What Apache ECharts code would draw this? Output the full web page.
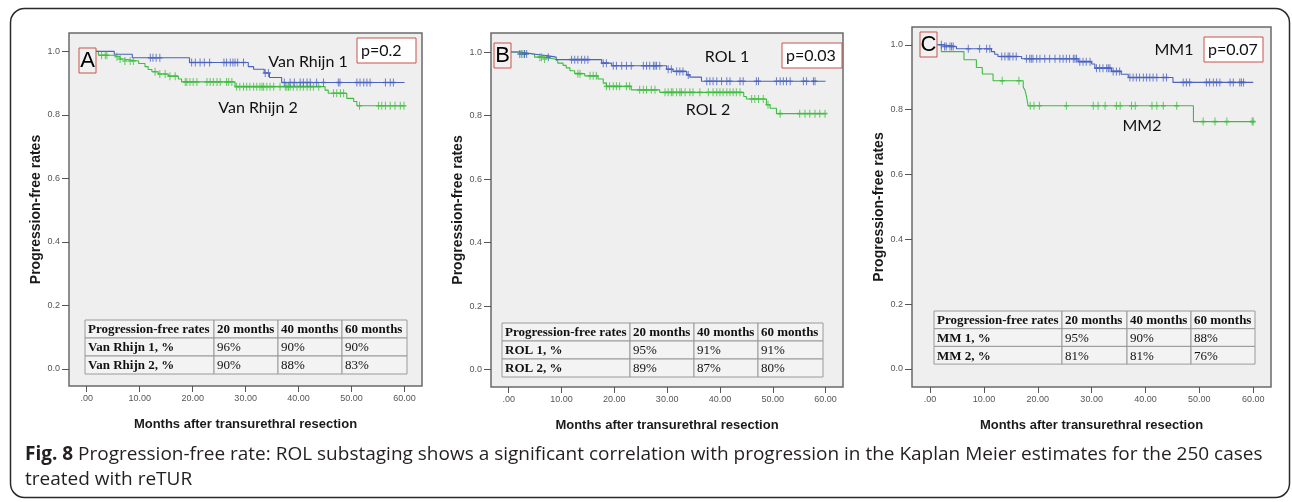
<!DOCTYPE html>
<html>
<head>
<meta charset="utf-8">
<script src="https://cdn.jsdelivr.net/npm/echarts@6/dist/echarts.min.js"></script>
<style>
html, body { margin: 0; padding: 0; background: #fff; }
#main { width: 1292px; height: 502px; }
</style>
</head>
<body>
<div id="main"></div>
<script>
// axis ticks
var xTicks = [0, 10, 20, 30, 40, 50, 60];
var xTickLabels = ['.00', '10.00', '20.00', '30.00', '40.00', '50.00', '60.00'];
var yTicks = [0, 0.2, 0.4, 0.6, 0.8, 1.0];
var yTickLabels = ['0.0', '0.2', '0.4', '0.6', '0.8', '1.0'];

// Kaplan-Meier steps [month, survival] and censor times
var vr1Steps = [[0, 1.0], [5.2, 0.991], [8.6, 0.980], [19.4, 0.965], [30.5, 0.952], [31.5, 0.944],
  [33.5, 0.932], [34.5, 0.918], [36.8, 0.902], [60, 0.902]];
var vr1Censor = [12.0, 12.5, 13.1, 13.8, 19.8, 20.5, 21.4, 22.2, 23.2, 25.9, 26.4, 27.1, 27.6, 28.0, 28.5, 29.6,
  33.7, 34.3, 37.3, 38.4, 39.2, 40.3, 40.9, 41.6, 42.2, 43.4, 44.7, 47.5, 47.8, 51.0, 51.6, 52.3, 52.9, 53.5,
  56.4, 57.3, 57.9];
var vr2Steps = [[0, 1.0], [2.2, 0.988], [5.0, 0.983], [6.3, 0.976], [6.9, 0.970], [9.8, 0.962], [11.0, 0.952],
  [11.6, 0.943], [12.3, 0.936], [13.5, 0.929], [15.4, 0.922], [17.3, 0.913], [17.9, 0.904], [28.0, 0.889],
  [45.0, 0.878], [45.6, 0.868], [49.1, 0.852], [50.4, 0.842], [51.0, 0.829], [60, 0.829]];
var vr2Censor = [2.8, 3.5, 3.8, 5.7, 6.3, 7.2, 8.2, 8.8, 12.9, 13.8, 14.8, 15.7, 16.7, 18.6, 18.9, 19.5, 20.1,
  20.8, 22.7, 23.3, 23.9, 24.6, 25.2, 26.4, 26.8, 27.4, 28.3, 28.9, 29.6, 30.2, 30.8, 31.5, 32.1, 32.7, 33.1,
  33.4, 34.0, 34.6, 35.3, 36.5, 37.5, 37.8, 38.1, 38.4, 39.0, 39.7, 40.3, 40.9, 41.6, 42.2, 42.8, 43.8,
  46.6, 47.2, 47.9, 48.5, 51.5, 55.1, 55.7, 56.4, 57.3, 58.2, 59.2, 59.9];

var rol1Steps = [[0, 1.0], [2.1, 0.994], [4.6, 0.988], [7.5, 0.984], [9.0, 0.976], [17.6, 0.965], [19.5, 0.957],
  [29.9, 0.946], [31.1, 0.939], [33.7, 0.928], [34.3, 0.921], [36.5, 0.908], [60, 0.908]];
var rol1Censor = [2.1, 3.0, 3.4, 7.5, 11.9, 12.5, 13.1, 13.8, 14.4, 15.0, 17.9, 18.5, 19.8, 20.4, 21.4, 22.3,
  23.2, 25.5, 26.1, 26.7, 27.4, 27.7, 28.0, 28.6, 30.2, 30.8, 31.8, 32.4, 33.0, 34.0, 37.5, 38.1, 38.7, 39.4,
  40.3, 41.3, 41.9, 43.8, 44.4, 46.9, 47.3, 50.7, 51.4, 52.0, 52.6, 53.3, 55.8, 56.4, 57.7, 58.0];
var rol2Steps = [[0, 1.0], [2.1, 0.994], [4.9, 0.984], [6.5, 0.978], [8.7, 0.972], [9.3, 0.965], [10.3, 0.958],
  [10.9, 0.950], [11.6, 0.941], [12.5, 0.932], [14.4, 0.925], [16.9, 0.915], [17.9, 0.902], [18.5, 0.892],
  [23.2, 0.881], [28.6, 0.873], [44.5, 0.860], [45.0, 0.852], [48.8, 0.834], [49.5, 0.823], [50.7, 0.806],
  [60, 0.806]];
var rol2Censor = [2.4, 2.7, 3.0, 5.9, 6.2, 6.8, 13.1, 13.5, 15.4, 16.0, 16.6, 18.5, 19.1, 19.8, 20.4, 21.0,
  22.3, 22.9, 24.8, 25.5, 26.1, 27.0, 27.7, 29.6, 30.2, 30.8, 31.1, 31.8, 32.4, 32.7, 33.4, 34.3, 34.9, 36.2,
  37.8, 38.7, 39.4, 40.0, 40.6, 41.3, 41.9, 42.5, 43.1, 43.8, 46.0, 46.6, 47.3, 48.2, 49.1, 51.4, 55.1, 56.1,
  57.0, 58.0, 58.9, 59.9];

var mm1Steps = [[0, 1.0], [2.4, 0.995], [4.9, 0.988], [11.4, 0.979], [12.0, 0.971], [12.6, 0.964],
  [17.0, 0.957], [27.5, 0.948], [30.0, 0.941], [30.6, 0.928], [33.7, 0.918], [35.5, 0.909], [36.8, 0.899],
  [45.1, 0.884], [60, 0.884]];
var mm1Censor = [2.1, 2.7, 3.0, 3.7, 4.0, 4.3, 7.1, 9.2, 10.5, 11.1, 13.3, 13.9, 14.5, 14.8, 15.4, 16.0, 17.9,
  18.5, 18.8, 19.1, 19.8, 20.4, 21.3, 22.2, 23.2, 24.1, 24.7, 25.3, 25.9, 26.6, 26.9, 27.2, 27.8, 28.4, 29.0,
  29.7, 30.9, 31.5, 32.1, 32.8, 33.1, 33.4, 34.0, 34.6, 35.2, 37.1, 37.7, 38.3, 38.9, 39.6, 40.2, 40.8, 41.4,
  42.1, 43.3, 43.9, 47.0, 47.6, 48.2, 51.3, 51.9, 52.6, 53.2, 53.8, 55.7, 56.3, 57.5, 57.8, 58.2];
var mm2Steps = [[0, 1.0], [2.1, 0.979], [6.3, 0.954], [8.6, 0.930], [9.7, 0.910], [11.7, 0.889],
  [17.3, 0.869], [17.6, 0.861], [17.9, 0.842], [18.2, 0.812], [48.9, 0.763], [60, 0.763]];
var mm2Censor = [13.4, 16.5, 18.6, 19.3, 20.3, 25.3, 30.3, 31.2, 32.5, 34.6, 35.3, 37.4, 38.1, 41.2, 42.1,
  43.3, 45.8, 50.7, 52.9, 55.1, 59.8, 60];

// tables
var tableHeader = ['Progression-free rates', '20 months', '40 months', '60 months'];
var tableA = [['Van Rhijn 1, %', '96%', '90%', '90%'], ['Van Rhijn 2, %', '90%', '88%', '83%']];
var tableB = [['ROL 1, %', '95%', '91%', '91%'], ['ROL 2, %', '89%', '87%', '80%']];
var tableC = [['MM 1, %', '95%', '90%', '88%'], ['MM 2, %', '81%', '81%', '76%']];

var panelLetters = ['A', 'B', 'C'];
var pValues = ['p=0.2', 'p=0.03', 'p=0.07'];
var groupNames = [['Van Rhijn 1', 'Van Rhijn 2'], ['ROL 1', 'ROL 2'], ['MM1', 'MM2']];

var captionBold = 'Fig. 8';
var captionLine1 = ' Progression-free rate: ROL substaging shows a significant correlation with progression in the Kaplan Meier estimates for the 250 cases';
var captionLine2 = 'treated with reTUR';

var BLUE = '#4a62c0';
var GREEN = '#3dbd3d';

// layout of the three panels (pixels)
var layout = [
  { grid: { left: 69, top: 33, width: 353, height: 353 }, yMin: -0.054, yMax: 1.058,
    letter: [79, 48], pBox: [357, 38, 59], names: [[308, 62], [258, 108]],
    table: { cols: [85, 214, 278, 342, 407], top: 320, rowH: 18 },
    steps: [vr1Steps, vr2Steps], censor: [vr1Censor, vr2Censor], rows: tableA },
  { grid: { left: 491, top: 33, width: 352, height: 354 }, yMin: -0.055, yMax: 1.060,
    letter: [494, 43], pBox: [782, 43, 60], names: [[727, 57], [708, 110]],
    table: { cols: [502, 630, 694, 758, 823], top: 323, rowH: 18 },
    steps: [rol1Steps, rol2Steps], censor: [rol1Censor, rol2Censor], rows: tableB },
  { grid: { left: 912, top: 27, width: 359, height: 360 }, yMin: -0.056, yMax: 1.055,
    letter: [920, 32], pBox: [1204, 37, 59], names: [[1174, 50], [1142, 126]],
    table: { cols: [934, 1062, 1127, 1191, 1255], top: 311, rowH: 17.7 },
    steps: [mm1Steps, mm2Steps], censor: [mm1Censor, mm2Censor], rows: tableC }
];

function stepAt(steps, t) {
  var v = steps[0][1];
  for (var i = 0; i < steps.length; i++) {
    if (steps[i][0] <= t) v = steps[i][1];
  }
  return v;
}

var plusSymbol = 'path://M2,0H3V2H5V3H3V5H2V3H0V2H2Z';

var grids = [], xAxes = [], yAxes = [], series = [], graphics = [];

layout.forEach(function (p, i) {
  grids.push(Object.assign({
    show: true, backgroundColor: '#efefef', borderColor: '#6a6a6a', borderWidth: 1.5
  }, p.grid));
  xAxes.push({
    type: 'value', gridIndex: i, min: -3.35, max: 63.3,
    name: 'Months after transurethral resection', nameLocation: 'middle', nameGap: 32,
    nameTextStyle: { fontFamily: 'Liberation Sans', fontWeight: 'bold', fontSize: 13, color: '#1a1a1a' },
    axisLine: { show: false, onZero: false }, splitLine: { show: false },
    axisTick: { show: true, customValues: xTicks, length: 6, lineStyle: { color: '#555' } },
    axisLabel: {
      customValues: xTicks, color: '#555', fontSize: 9, fontFamily: 'Liberation Sans', margin: 8,
      formatter: function (v) { return xTickLabels[xTicks.indexOf(v)]; }
    }
  });
  yAxes.push({
    type: 'value', gridIndex: i, min: p.yMin, max: p.yMax,
    name: 'Progression-free rates', nameLocation: 'middle', nameGap: 26,
    nameTextStyle: { fontFamily: 'Liberation Sans', fontWeight: 'bold', fontSize: 14, color: '#1a1a1a' },
    axisLine: { show: false, onZero: false }, splitLine: { show: false },
    axisTick: { show: true, customValues: yTicks, length: 7, lineStyle: { color: '#555' } },
    axisLabel: {
      customValues: yTicks, color: '#555', fontSize: 9, fontFamily: 'Liberation Sans', margin: 9,
      formatter: function (v) { return yTickLabels[yTicks.indexOf(v)]; }
    }
  });

  [GREEN, BLUE].forEach(function (color) {
    var idx = color === BLUE ? 0 : 1;
    series.push({
      type: 'line', xAxisIndex: i, yAxisIndex: i, step: 'end', showSymbol: false,
      data: p.steps[idx], lineStyle: { color: color, width: 1.1 }, silent: true, z: 3
    });
    series.push({
      type: 'scatter', xAxisIndex: i, yAxisIndex: i, symbol: plusSymbol, symbolSize: [5, 8],
      data: p.censor[idx].map(function (t) { return [t, stepAt(p.steps[idx], t)]; }),
      itemStyle: { color: color }, silent: true, z: 4
    });
  });

  // panel letter box
  graphics.push({
    type: 'rect', z: 100, shape: { x: p.letter[0], y: p.letter[1], width: 17, height: 25 },
    style: { fill: '#f1f1f1', stroke: '#c9534f', lineWidth: 1 }
  });
  graphics.push({
    type: 'text', z: 101, x: p.letter[0] + 8.5, y: p.letter[1] + 13,
    style: { text: panelLetters[i], font: '22px "Liberation Sans"', fill: '#000', align: 'center', verticalAlign: 'middle' }
  });
  // p value box
  graphics.push({
    type: 'rect', z: 100, shape: { x: p.pBox[0], y: p.pBox[1], width: p.pBox[2], height: 25 },
    style: { fill: '#fff', stroke: '#c9534f', lineWidth: 1 }
  });
  graphics.push({
    type: 'text', z: 101, x: p.pBox[0] + 4, y: p.pBox[1] + 12.5,
    style: { text: pValues[i], font: '16px Lato', fill: '#111', align: 'left', verticalAlign: 'middle' }
  });
  // group names
  p.names.forEach(function (pos, k) {
    graphics.push({
      type: 'text', z: 101, x: pos[0], y: pos[1],
      style: { text: groupNames[i][k], font: '16px Lato', fill: '#111', align: 'center', verticalAlign: 'middle' }
    });
  });
  // table
  var t = p.table;
  var rows = [tableHeader].concat(p.rows);
  rows.forEach(function (row, r) {
    row.forEach(function (cell, c) {
      var x = t.cols[c], y = t.top + r * t.rowH;
      graphics.push({
        type: 'rect', z: 100, shape: { x: x, y: y, width: t.cols[c + 1] - x, height: t.rowH },
        style: { fill: '#f3f3f3', stroke: '#9a9a9a', lineWidth: 1 }
      });
      graphics.push({
        type: 'text', z: 101, x: x + 3, y: y + t.rowH / 2 + 1,
        style: {
          text: cell, fill: '#111', align: 'left', verticalAlign: 'middle',
          font: ((r === 0 || c === 0) ? 'bold ' : '') + '13px "Liberation Serif"'
        }
      });
    });
  });
});

// outer frame and caption
graphics.push({
  type: 'rect', z: 0, shape: { x: 10.5, y: 8.5, width: 1279, height: 489, r: 14 },
  style: { fill: 'none', stroke: '#2a2a2a', lineWidth: 1.5 }
});
graphics.push({
  type: 'text', z: 101, x: 25, y: 455,
  style: {
    text: '{b|' + captionBold + '}' + captionLine1, verticalAlign: 'middle',
    font: '19px "Open Sans"', fill: '#231f20',
    rich: { b: { fontWeight: 'bold', fontSize: 19, fontFamily: 'Open Sans', fill: '#231f20' } }
  }
});
graphics.push({
  type: 'text', z: 101, x: 25, y: 480,
  style: { text: captionLine2, verticalAlign: 'middle', font: '19px "Open Sans"', fill: '#231f20' }
});

var chart = echarts.init(document.getElementById('main'));
chart.setOption({
  animation: false,
  backgroundColor: '#fff',
  grid: grids,
  xAxis: xAxes,
  yAxis: yAxes,
  series: series,
  graphic: graphics
});
</script>
</body>
</html>
